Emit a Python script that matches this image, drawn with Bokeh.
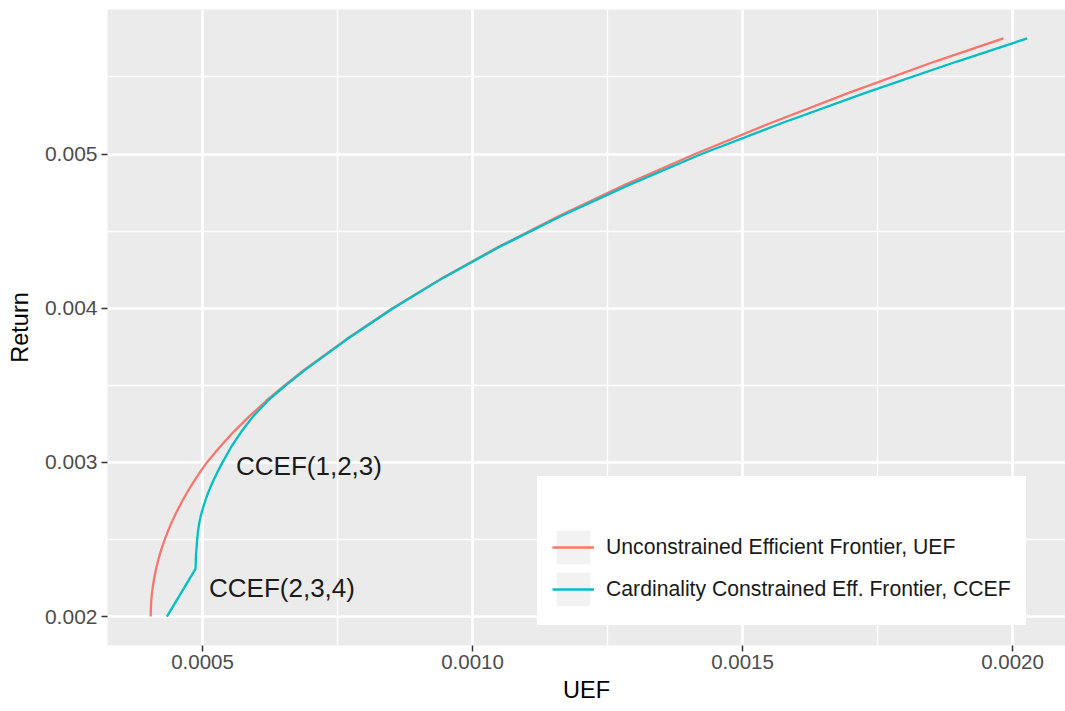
from bokeh.plotting import figure
from bokeh.models import (ColumnDataSource, Range1d, FixedTicker, PrintfTickFormatter,
                          Legend, LegendItem)
from bokeh.core.properties import value
from bokeh.embed import file_html
from bokeh.resources import INLINE

# ---- data ----
uef_ret = [0.00200, 0.00205, 0.00210, 0.00215, 0.00220, 0.00225, 0.00230, 0.00235,
           0.00240, 0.00245, 0.00250, 0.00255, 0.00260, 0.00265, 0.00270, 0.00275,
           0.00280, 0.00285, 0.00290, 0.00295, 0.00300, 0.00310, 0.00320, 0.00330,
           0.00340, 0.00350, 0.00360, 0.00380, 0.00400, 0.00420, 0.00440, 0.00460,
           0.00480, 0.00500, 0.00520, 0.00540, 0.00560, 0.00575]
uef_risk = [0.0004040, 0.0004043, 0.0004050, 0.0004063, 0.0004082, 0.0004105, 0.0004134,
            0.0004167, 0.0004206, 0.0004251, 0.0004300, 0.0004355, 0.0004414, 0.0004479,
            0.0004550, 0.0004625, 0.0004706, 0.0004791, 0.0004882, 0.0004979, 0.0005080,
            0.000532, 0.000558, 0.000587, 0.000618, 0.000652, 0.000688, 0.000767,
            0.000852, 0.000946, 0.001049, 0.001161, 0.001282, 0.001412, 0.001551,
            0.001699, 0.001856, 0.001983]

ccef_ret = [0.00200, 0.00231, 0.00240, 0.00250, 0.00255, 0.00260, 0.00265, 0.00270,
            0.00275, 0.00280, 0.00285, 0.00290, 0.00295, 0.00300, 0.00310, 0.00320,
            0.00330, 0.00340, 0.00350, 0.00360, 0.00380, 0.00400, 0.00420, 0.00440,
            0.00460, 0.00480, 0.00500, 0.00520, 0.00540, 0.00560, 0.00575]
ccef_risk = [0.000434, 0.000487, 0.000488, 0.0004900, 0.0004915, 0.0004935, 0.0004965,
             0.0005005, 0.0005050, 0.0005100, 0.0005160, 0.0005225, 0.0005295, 0.0005370,
             0.000553, 0.000572, 0.000594, 0.000621, 0.000654, 0.000690, 0.000768,
             0.000853, 0.000947, 0.001051, 0.001165, 0.001290, 0.001424, 0.001572,
             0.001730, 0.001897, 0.002027]

label_x = [0.000562, 0.000512]
label_y = [0.002975, 0.002188]
label_text = ["CCEF(1,2,3)", "CCEF(2,3,4)"]

x_ticks = [0.0005, 0.0010, 0.0015, 0.0020]
x_minor = [0.00025, 0.00075, 0.00125, 0.00175]
y_ticks = [0.002, 0.003, 0.004, 0.005]
y_minor = [0.0015, 0.0025, 0.0035, 0.0045, 0.0055]

legend_labels = ["Unconstrained Efficient Frontier, UEF",
                 "Cardinality Constrained Eff. Frontier, CCEF"]

RED = "#F8766D"
TEAL = "#00BFC4"
FONT = "Liberation Sans"

p = figure(width=1065, height=708, output_backend="svg", toolbar_location=None,
           x_range=Range1d(0.000324, 0.002098), y_range=Range1d(0.0018125, 0.0059375),
           min_border_left=107, min_border_right=0, min_border_top=9, min_border_bottom=63)

p.background_fill_color = "#EBEBEB"
p.border_fill_color = "white"
p.outline_line_color = None

for ax in (p.xaxis[0], p.yaxis[0]):
    ax.axis_line_color = None
    ax.major_tick_line_color = "#333333"
    ax.major_tick_line_width = 1.5
    ax.major_tick_out = 6
    ax.major_tick_in = 0
    ax.minor_tick_line_color = None
    ax.major_label_text_color = "#4D4D4D"
    ax.major_label_text_font = FONT
    ax.major_label_text_font_size = "20.5px"
    ax.axis_label_text_font = FONT
    ax.axis_label_text_font_size = "23.5px"
    ax.axis_label_text_font_style = "normal"
    ax.axis_label_text_color = "black"

p.yaxis.major_label_text_font_size = "21px"
p.xaxis.ticker = FixedTicker(ticks=x_ticks, minor_ticks=x_minor)
p.yaxis.ticker = FixedTicker(ticks=y_ticks, minor_ticks=y_minor)
p.xaxis.formatter = PrintfTickFormatter(format="%.4f")
p.yaxis.formatter = PrintfTickFormatter(format="%.3f")
p.xaxis.axis_label = "UEF"
p.yaxis.axis_label = "Return"
p.xaxis.major_label_standoff = 3
p.yaxis.major_label_standoff = 4
p.xaxis.axis_label_standoff = 5
p.yaxis.axis_label_standoff = 9

p.grid.grid_line_color = "white"
p.grid.grid_line_width = 2.6
p.grid.minor_grid_line_color = "white"
p.grid.minor_grid_line_width = 1.3

src_u = ColumnDataSource(dict(x=uef_risk, y=uef_ret))
src_c = ColumnDataSource(dict(x=ccef_risk, y=ccef_ret))
r_u = p.line("x", "y", source=src_u, line_color=RED, line_width=2.3)
r_c = p.line("x", "y", source=src_c, line_color=TEAL, line_width=2.3)

src_t = ColumnDataSource(dict(x=label_x, y=label_y, t=label_text))
p.text("x", "y", text="t", source=src_t, text_font=value(FONT), text_font_size="26px",
       text_color="#1A1A1A", text_align="left", text_baseline="middle")

# legend key backgrounds (NaN position: nothing drawn in the plot, only in the legend)
bg = ColumnDataSource(dict(x=[float("nan")], y=[float("nan")]))
k1 = p.rect("x", "y", width=1, height=1, source=bg, fill_color="#F2F2F2", line_color=None)
k2 = p.rect("x", "y", width=1, height=1, source=bg, fill_color="#F2F2F2", line_color=None)

legend = Legend(items=[LegendItem(label=legend_labels[0], renderers=[k1, r_u]),
                       LegendItem(label=legend_labels[1], renderers=[k2, r_c])],
                location=(430, 20), title=" ")
legend.title_text_font_size = "20px"
legend.title_standoff = 12
legend.border_line_color = "white"
legend.border_line_width = 1
legend.background_fill_color = "white"
legend.background_fill_alpha = 1.0
legend.padding = 14
legend.margin = 0
legend.glyph_width = 42
legend.glyph_height = 42
legend.spacing = 0
legend.label_standoff = 12
legend.label_text_font = FONT
legend.label_text_font_size = "21.2px"
legend.label_text_color = "#1A1A1A"
p.add_layout(legend, "center")

open("out.html", "w").write(file_html(p, INLINE))
